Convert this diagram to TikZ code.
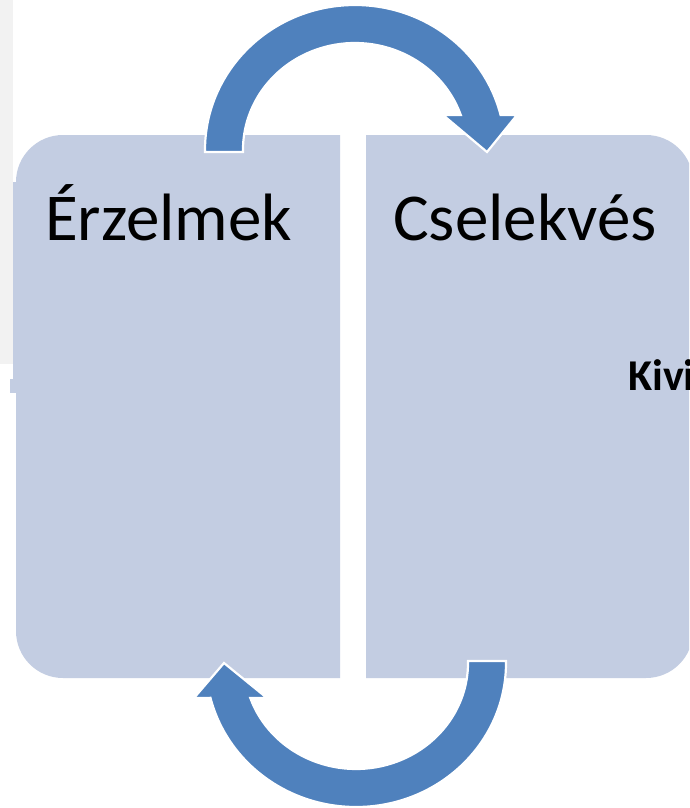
\documentclass[tikz,border=0pt]{standalone}
\usepackage{fontspec}
\newfontfamily\carlito{Carlito}
\definecolor{boxfill}{HTML}{C3CDE2}
\definecolor{arrowblue}{HTML}{4F81BD}
\definecolor{pagegray}{HTML}{F2F2F2}
\tikzset{
  boxshape/.style={fill=boxfill},
  cyclearrow/.style={fill=arrowblue, draw=white, line width=2.2pt, line join=miter},
  bigtext/.style={inner sep=0pt, anchor=base west, text=black, font=\carlito\fontsize{67}{70}\selectfont},
  boldtext/.style={inner sep=0pt, anchor=base west, text=black, font=\carlito\bfseries\fontsize{44}{46}\selectfont}
}
\begin{document}
\begin{tikzpicture}[x=1pt, y=-1pt]
\useasboundingbox (0,0) rectangle (689,808);
\clip (0,0) rectangle (689,808);
\fill[white] (0,0) rectangle (689,808);
% gray page strip
\fill[pagegray] (0,0) rectangle (13,364);
% left box
\fill[boxshape] (340,135) -- (340,678) -- (63,678)
  arc[start angle=90, end angle=180, radius=47] -- (16,182)
  arc[start angle=180, end angle=270, radius=47] -- cycle;
\fill[boxshape] (13,182) rectangle (17,379);
\fill[boxshape] (10,379) rectangle (16,393);
% right box
\fill[boxshape] (366,135) -- (646,135)
  arc[start angle=270, end angle=360, radius=47] -- (693,631)
  arc[start angle=0, end angle=90, radius=47] -- (366,678) -- cycle;
% top arrow
\filldraw[cyclearrow] (205,152) -- (205,150)
  arc[start angle=180, end angle=346, x radius=150, y radius=145]
  -- (517,115) -- (487,152) -- (443,115) -- (460.8,115)
  arc[start angle=340.9, end angle=180, x radius=112, y radius=107]
  -- (243,152) -- cycle;
% bottom arrow
\filldraw[cyclearrow] (506,661) -- (506,663)
  arc[start angle=0, end angle=166, x radius=150, y radius=144]
  -- (194,698) -- (224,663) -- (267,698) -- (250.3,698)
  arc[start angle=160.7, end angle=0, x radius=112, y radius=106]
  -- (468,661) -- cycle;
% texts
\node[bigtext] (erz) at (45,240) {Érzelmek};
\node[bigtext] (csel) at (393,240) {Cselekvés};
\node[boldtext] (kivi) at (628,390) {Kivi};
\end{tikzpicture}
\end{document}
